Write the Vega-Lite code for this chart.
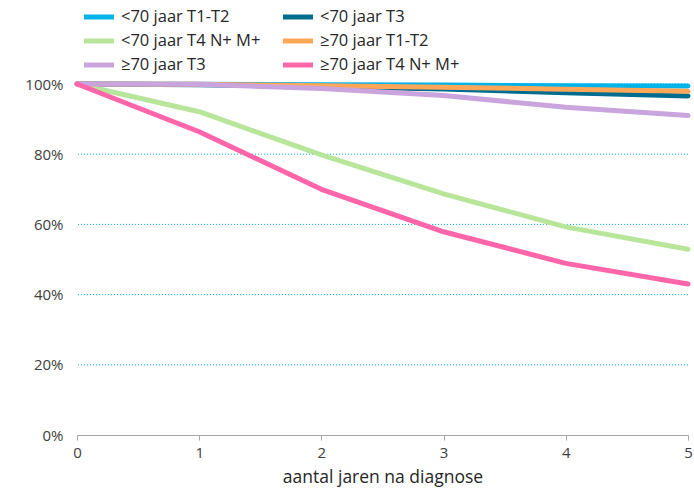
{
  "$schema": "https://vega.github.io/schema/vega-lite/v6.json",
  "width": 611,
  "height": 351,
  "autosize": {"type": "none"},
  "padding": {"left": 77, "top": 84, "right": 6, "bottom": 56},
  "background": "white",
  "config": {
    "view": {"stroke": null},
    "font": "Open Sans",
    "axis": {"labelFont": "Open Sans", "titleFont": "Open Sans", "labelColor": "#404040", "titleColor": "#262626"},
    "legend": {"labelFont": "Open Sans"}
  },
  "data": {"values": [
    {"jaar": 0, "groep": "<70 jaar T1-T2", "pct": 1.0},
    {"jaar": 1, "groep": "<70 jaar T1-T2", "pct": 0.999},
    {"jaar": 2, "groep": "<70 jaar T1-T2", "pct": 0.998},
    {"jaar": 3, "groep": "<70 jaar T1-T2", "pct": 0.997},
    {"jaar": 4, "groep": "<70 jaar T1-T2", "pct": 0.995},
    {"jaar": 5, "groep": "<70 jaar T1-T2", "pct": 0.994},
    {"jaar": 0, "groep": "<70 jaar T3", "pct": 1.0},
    {"jaar": 1, "groep": "<70 jaar T3", "pct": 0.998},
    {"jaar": 2, "groep": "<70 jaar T3", "pct": 0.993},
    {"jaar": 3, "groep": "<70 jaar T3", "pct": 0.986},
    {"jaar": 4, "groep": "<70 jaar T3", "pct": 0.975},
    {"jaar": 5, "groep": "<70 jaar T3", "pct": 0.966},
    {"jaar": 0, "groep": "<70 jaar T4 N+ M+", "pct": 1.0},
    {"jaar": 1, "groep": "<70 jaar T4 N+ M+", "pct": 0.921},
    {"jaar": 2, "groep": "<70 jaar T4 N+ M+", "pct": 0.798},
    {"jaar": 3, "groep": "<70 jaar T4 N+ M+", "pct": 0.687},
    {"jaar": 4, "groep": "<70 jaar T4 N+ M+", "pct": 0.593},
    {"jaar": 5, "groep": "<70 jaar T4 N+ M+", "pct": 0.529},
    {"jaar": 0, "groep": "≥70 jaar T1-T2", "pct": 1.0},
    {"jaar": 1, "groep": "≥70 jaar T1-T2", "pct": 0.999},
    {"jaar": 2, "groep": "≥70 jaar T1-T2", "pct": 0.995},
    {"jaar": 3, "groep": "≥70 jaar T1-T2", "pct": 0.991},
    {"jaar": 4, "groep": "≥70 jaar T1-T2", "pct": 0.985},
    {"jaar": 5, "groep": "≥70 jaar T1-T2", "pct": 0.979},
    {"jaar": 0, "groep": "≥70 jaar T3", "pct": 1.0},
    {"jaar": 1, "groep": "≥70 jaar T3", "pct": 0.999},
    {"jaar": 2, "groep": "≥70 jaar T3", "pct": 0.987},
    {"jaar": 3, "groep": "≥70 jaar T3", "pct": 0.967},
    {"jaar": 4, "groep": "≥70 jaar T3", "pct": 0.934},
    {"jaar": 5, "groep": "≥70 jaar T3", "pct": 0.910},
    {"jaar": 0, "groep": "≥70 jaar T4 N+ M+", "pct": 1.0},
    {"jaar": 1, "groep": "≥70 jaar T4 N+ M+", "pct": 0.864},
    {"jaar": 2, "groep": "≥70 jaar T4 N+ M+", "pct": 0.700},
    {"jaar": 3, "groep": "≥70 jaar T4 N+ M+", "pct": 0.579},
    {"jaar": 4, "groep": "≥70 jaar T4 N+ M+", "pct": 0.489},
    {"jaar": 5, "groep": "≥70 jaar T4 N+ M+", "pct": 0.430}
  ]},
  "layer": [
    {
      "mark": {"type": "rule", "stroke": "#00b0f0", "strokeDash": [1, 2], "strokeWidth": 1},
      "data": {"values": [{"v": 0.2}, {"v": 0.4}, {"v": 0.6}, {"v": 0.8}, {"v": 1.0}]},
      "encoding": {"y": {"field": "v", "type": "quantitative", "scale": {"domain": [0, 1]}}}
    },
    {
      "mark": {"type": "line", "strokeWidth": 5, "strokeCap": "round", "strokeJoin": "round"},
      "encoding": {
        "x": {
          "field": "jaar", "type": "quantitative",
          "scale": {"domain": [0, 5], "nice": false},
          "axis": {"title": "aantal jaren na diagnose", "titleFontSize": 17.5, "titleFontWeight": "normal", "titlePadding": 8,
                   "labelFontSize": 15, "values": [0, 1, 2, 3, 4, 5], "format": "d", "grid": false, "labelOverlap": false,
                   "domainColor": "#a6a6a6", "tickColor": "#a6a6a6", "tickSize": 5, "labelPadding": 5, "labelFlush": false}
        },
        "y": {
          "field": "pct", "type": "quantitative",
          "scale": {"domain": [0, 1], "nice": false},
          "axis": {"title": null, "format": ".0%", "values": [0, 0.2, 0.4, 0.6, 0.8, 1.0], "grid": false, "domain": false, "ticks": false,
                   "labelFontSize": 15, "labelPadding": 14, "labelOverlap": false}
        },
        "color": {
          "field": "groep", "type": "nominal",
          "sort": ["<70 jaar T1-T2", "<70 jaar T3", "<70 jaar T4 N+ M+", "≥70 jaar T1-T2", "≥70 jaar T3", "≥70 jaar T4 N+ M+"],
          "scale": {
            "domain": ["<70 jaar T1-T2", "<70 jaar T3", "<70 jaar T4 N+ M+", "≥70 jaar T1-T2", "≥70 jaar T3", "≥70 jaar T4 N+ M+"],
            "range": ["#00b4ea", "#006d8f", "#b7e59a", "#ffa658", "#caa4dc", "#ff66aa"]
          },
          "legend": {
            "title": null, "orient": "none", "legendX": 12, "legendY": -77, "direction": "horizontal", "columns": 2,
            "symbolType": "M-2,0L2,0", "symbolSize": 225, "symbolStrokeWidth": 5, "labelFontSize": 16.5, "labelColor": "#262626",
            "rowPadding": 4, "columnPadding": 12, "labelOffset": 12, "symbolOffset": 0
          }
        },
        "order": {"field": "groep"}
      }
    }
  ]
}
